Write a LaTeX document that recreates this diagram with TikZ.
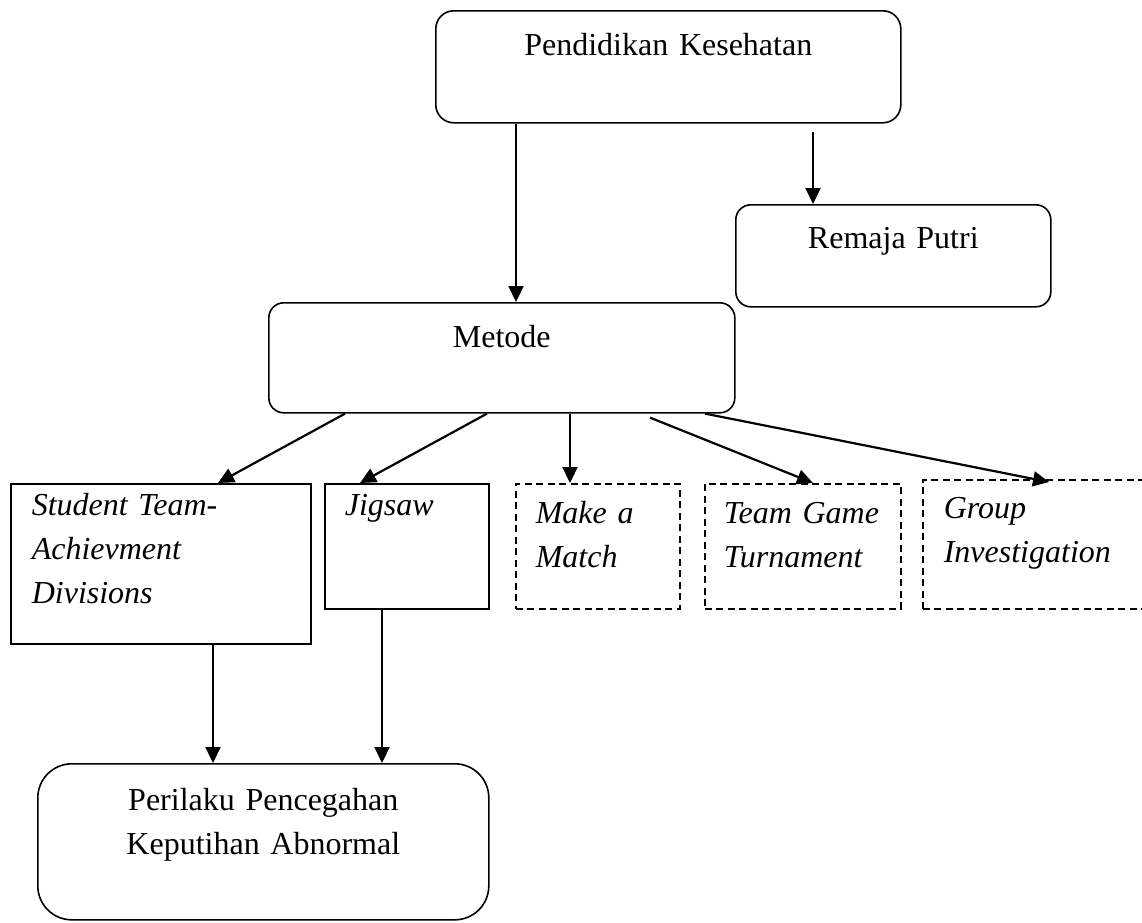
\documentclass[tikz,border=0pt]{standalone}
\usepackage{fontspec}
\setmainfont{Liberation Serif}
\usetikzlibrary{arrows.meta}
\tikzset{
  base/.style={draw, line width=1.6pt, inner ysep=0pt, anchor=north west,
    font=\fontsize{32}{44}\selectfont},
  rbox/.style={base, rounded corners=18pt, align=center, inner xsep=0pt},
  mbox/.style={base, align=left, font=\fontsize{32}{44}\selectfont\itshape},
  dbox/.style={mbox, dash pattern=on 7pt off 4.5pt},
  arr/.style={line width=2.2pt, -{Triangle[length=16pt,width=15pt]}}
}
\begin{document}
\begin{tikzpicture}[x=1pt,y=-1pt]
\useasboundingbox (0,0) rectangle (1142,922);
\clip (0,0) rectangle (1142,922);
% main boxes
\node[rbox, text width=465pt, text height=45pt, text depth=67pt] (pk) at (435,10) {Pendidikan Kesehatan};
\node[rbox, rounded corners=15pt, text width=315pt, text height=44pt, text depth=58pt] (rp) at (735,204) {Remaja Putri};
\node[rbox, rounded corners=15pt, text width=466pt, text height=45pt, text depth=65pt] (m) at (268,302) {Metode};
% methods
\node[mbox, inner xsep=21pt, text width=258pt, text height=32pt, text depth=128pt] (stad) at (10,483) {Student Team-\\Achievment\\Divisions};
\node[mbox, inner xsep=20pt, text width=124pt, text height=32pt, text depth=93pt] (jig) at (324,483) {Jigsaw};
\node[dbox, inner xsep=20pt, text width=124pt, text height=40pt, text depth=85pt] (mam) at (515,483) {Make a\\Match};
\node[dbox, inner xsep=19pt, text width=158pt, text height=40pt, text depth=85pt] (tgt) at (704,483) {Team Game\\Turnament};
\node[dbox, inner xsep=21pt, text width=206pt, text height=39pt, text depth=90pt] (gi) at (922,479) {Group\\Investigation};
% outcome
\node[rbox, rounded corners=34pt, text width=451pt, text height=47pt, text depth=109pt] (ppka) at (37,763) {Perilaku Pencegahan\\Keputihan Abnormal};
% connectors
\coordinate (rpstart) at (813,132);
\draw[arr] ([xshift=81pt]pk.south west) -- ([xshift=248pt]m.north west);
\draw[arr] (rpstart) -- ([xshift=78pt]rp.north west);
\draw[arr] ([xshift=77pt]m.south west) -- ([xshift=208pt]stad.north west);
\draw[arr] ([xshift=219pt]m.south west) -- ([xshift=36pt]jig.north west);
\draw[arr] ([xshift=302pt]m.south west) -- ([xshift=55pt]mam.north west);
\draw[arr] ([xshift=382pt,yshift=-4pt]m.south west) -- ([xshift=109pt]tgt.north west);
\draw[arr] ([xshift=437pt]m.south west) -- ([xshift=127pt,yshift=-3pt]gi.north west);
\draw[arr] ([xshift=203pt]stad.south west) -- ([xshift=176pt]ppka.north west);
\draw[arr] ([xshift=58pt]jig.south west) -- ([xshift=345pt]ppka.north west);
\end{tikzpicture}
\end{document}
